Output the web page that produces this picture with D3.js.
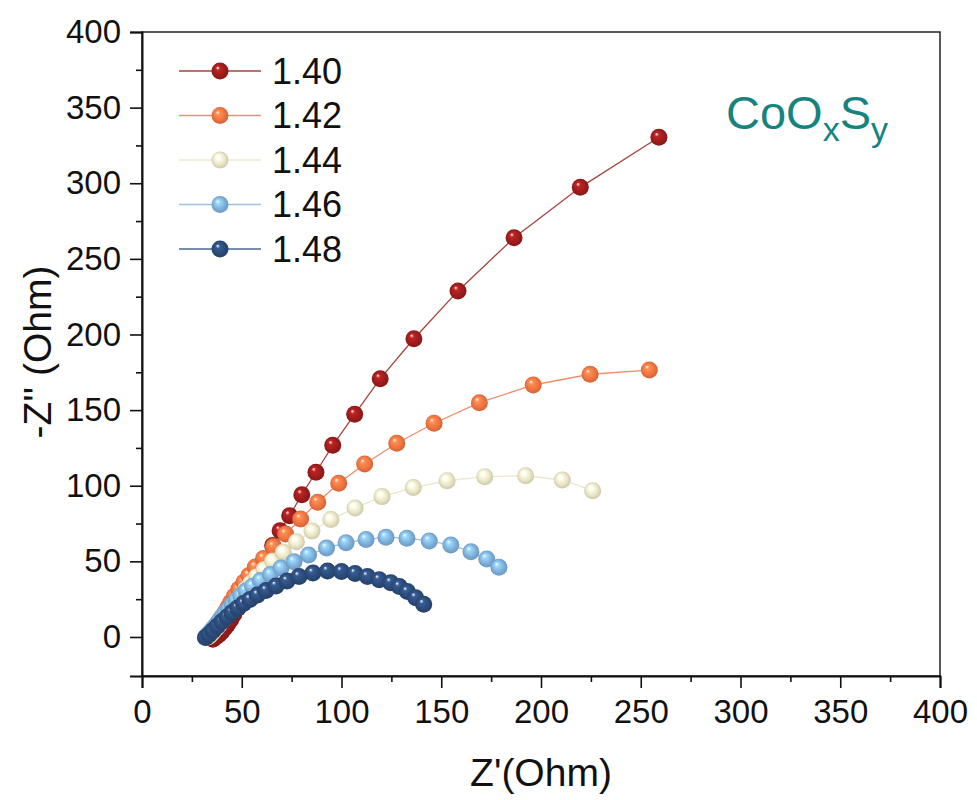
<!DOCTYPE html>
<html>
<head>
<meta charset="utf-8">
<script src="https://cdn.jsdelivr.net/npm/d3@7"></script>
<style>
body { margin: 0; background: #fff; }
text { font-family: "Liberation Sans", Arial, sans-serif; fill: #111; }
</style>
</head>
<body>
<svg id="chart"></svg>
<script>
// Page and plot box
const WIDTH = 977
const HEIGHT = 800
const LEFT = 142
const RIGHT = 940
const TOP = 32
const BOTTOM = 676

// Legend labels and colours (one per potential)
const seriesNames = ["1.40", "1.42", "1.44", "1.46", "1.48"]
const seriesColors = ["#9b1c1c", "#ee7341", "#e9e4c2", "#7caed8", "#2b4a78"]
const lineColors = ["#a5443e", "#ec8f6c", "#ece8cf", "#9cc1e0", "#4c6790"]

// Nyquist data: Z' (re) and -Z'' (im), Ohm
const re140 = [35.5, 37, 38.5, 40, 41.5, 43, 44.5, 46, 48, 50, 52, 54.5, 57.5, 61, 65.5, 69.2, 74.0, 80.1, 87.2, 95.6, 106.6, 119.4, 136.3, 158.4, 186.5, 219.7, 259.1]
const im140 = [-1.5, 0, 1.5, 3.5, 6, 8.5, 11.5, 15, 19, 23.5, 28.5, 34, 40.5, 49.5, 60.5, 70.3, 80.2, 94.1, 108.9, 126.7, 147.2, 170.8, 197.2, 228.8, 264.0, 297.3, 330.4]

const re142 = [33.5, 34.5, 35.5, 36.5, 37.5, 38.8, 40, 41.5, 43, 44.5, 46.3, 48.5, 51.1, 53.6, 56.8, 60.9, 65.9, 72.0, 79.5, 88.1, 98.6, 111.6, 127.7, 146.4, 169.1, 196.1, 224.6, 254.3]
const im142 = [0.3, 1.5, 3, 5, 7.5, 10, 13, 16, 19.5, 23, 27, 31.5, 36.2, 40.7, 46.3, 51.9, 59.8, 68.1, 78.0, 89.1, 101.6, 114.4, 128.1, 141.3, 154.9, 166.6, 173.7, 176.5]

const re144 = [33, 34, 35, 36, 37.5, 39, 40.5, 42, 43.5, 45.5, 47.5, 49.5, 52, 54.5, 57.5, 61.2, 65.5, 70.8, 77.4, 85.2, 94.7, 106.8, 120.3, 136.0, 152.9, 171.8, 192.3, 210.7, 225.9]
const im144 = [0, 1, 2.5, 4, 6, 8.5, 11, 14, 17, 20.5, 24, 27.5, 31.5, 35.5, 39.9, 44.6, 50.2, 56.0, 63.0, 70.1, 77.6, 85.3, 92.8, 98.8, 103.3, 106.0, 106.6, 103.8, 96.7]

const re146 = [32, 32.6, 33.4, 34.3, 35.3, 36.4, 37.6, 38.9, 40.3, 41.8, 43.4, 45.2, 47.2, 49.5, 52.1, 55.4, 59.4, 64.4, 69.7, 76.2, 83.5, 92.5, 102.3, 112.3, 122.3, 132.8, 144.0, 154.8, 164.9, 172.8, 178.9]
const im146 = [-0.2, 0.8, 2, 3.4, 5, 6.8, 8.8, 11, 13.4, 16, 18.6, 21.4, 24.3, 27.3, 30.4, 33.6, 37.4, 41.3, 45.6, 49.8, 54.2, 58.8, 62.3, 64.5, 65.9, 65.3, 63.5, 60.8, 56.4, 51.6, 46.1]

const re148 = [31.8, 33.6, 35.6, 37.8, 40.1, 42.6, 45.1, 47.9, 50.9, 54.1, 57.9, 62.2, 67.2, 72.7, 78.7, 85.7, 93.0, 100.0, 106.8, 113.0, 118.9, 124.7, 129.0, 133.0, 137.2, 141.2]
const im148 = [-0.3, 1.7, 4.3, 7.3, 10.2, 13.2, 16.2, 19.2, 22.1, 24.8, 27.8, 30.7, 33.7, 37.0, 40.0, 42.3, 43.6, 43.3, 42.0, 40.0, 37.9, 35.9, 33.3, 30.0, 26.0, 21.6]

// Axis ticks
const xTicks = [0, 50, 100, 150, 200, 250, 300, 350, 400]
const xMinor = [25, 75, 125, 175, 225, 275, 325, 375]
const yTicks = [0, 50, 100, 150, 200, 250, 300, 350, 400]
const yMinor = [25, 75, 125, 175, 225, 275, 325, 375]

const reList = [re140, re142, re144, re146, re148]
const imList = [im140, im142, im144, im146, im148]
const series = seriesNames.map((name, i) => ({
  name,
  color: seriesColors[i],
  line: lineColors[i],
  points: reList[i].map((x, j) => ({ x, y: imList[i][j] })),
}))

const xScale = d3.scaleLinear().domain([0, 400]).range([LEFT, RIGHT])
const yScale = d3.scaleLinear().domain([-25.8, 400]).range([BOTTOM, TOP])

const svg = d3.select("#chart").attr("width", WIDTH).attr("height", HEIGHT)

// glossy sphere gradients, one per series
const defs = svg.append("defs")
series.forEach((s, i) => {
  const c = d3.color(s.color)
  const g = defs.append("radialGradient")
    .attr("id", "ball" + i)
    .attr("cx", "50%").attr("cy", "50%").attr("r", "55%")
    .attr("fx", "35%").attr("fy", "30%")
  g.append("stop").attr("offset", "0%").attr("stop-color", "#ffffff")
  g.append("stop").attr("offset", "22%").attr("stop-color", c.brighter(0.6))
  g.append("stop").attr("offset", "65%").attr("stop-color", c)
  g.append("stop").attr("offset", "100%").attr("stop-color", c.darker(0.5))
})

// frame (top and right sides)
svg.append("rect")
  .attr("x", LEFT).attr("y", TOP)
  .attr("width", RIGHT - LEFT).attr("height", BOTTOM - TOP)
  .attr("fill", "none").attr("stroke", "#222").attr("stroke-width", 1.5)

// x axis
const xAxis = svg.append("g").attr("transform", `translate(0,${BOTTOM})`)
  .call(d3.axisBottom(xScale).tickValues(xTicks).tickSize(12).tickPadding(12))
xAxis.append("g")
  .call(d3.axisBottom(xScale).tickValues(xMinor).tickSize(6).tickFormat(""))
  .select(".domain").remove()

// y axis
const yAxis = svg.append("g").attr("transform", `translate(${LEFT},0)`)
  .call(d3.axisLeft(yScale).tickValues(yTicks).tickSize(12).tickPadding(9))
yAxis.append("g")
  .call(d3.axisLeft(yScale).tickValues(yMinor).tickSize(6).tickFormat(""))
  .select(".domain").remove()

svg.selectAll(".domain").attr("stroke", "#111").attr("stroke-width", 2)
svg.selectAll(".tick line").attr("stroke", "#111").attr("stroke-width", 1.6)
svg.selectAll(".tick text")
  .attr("font-size", 33)
  .attr("font-family", "'Liberation Sans', Arial, sans-serif")
  .attr("fill", "#111")

// axis titles
svg.append("text")
  .attr("x", (LEFT + RIGHT) / 2).attr("y", 786)
  .attr("text-anchor", "middle").attr("font-size", 39)
  .text("Z'(Ohm)")
svg.append("text")
  .attr("transform", `translate(51,${(TOP + BOTTOM) / 2 - 2}) rotate(-90)`)
  .attr("text-anchor", "middle").attr("font-size", 39)
  .text("-Z'' (Ohm)")

// series
const line = d3.line().x((d) => xScale(d.x)).y((d) => yScale(d.y))
const groups = svg.selectAll(".series").data(series).join("g").attr("class", "series")
groups.append("path")
  .attr("d", (d) => line(d.points))
  .attr("fill", "none")
  .attr("stroke", (d) => d.line)
  .attr("stroke-width", 1.3)
groups.each(function (d, i) {
  d3.select(this).selectAll("circle").data(d.points).join("circle")
    .attr("cx", (p) => xScale(p.x))
    .attr("cy", (p) => yScale(p.y))
    .attr("r", 8.5)
    .attr("fill", `url(#ball${i})`)
})

// legend
const legend = svg.append("g")
const legendRows = legend.selectAll("g").data(series).join("g")
  .attr("transform", (d, i) => `translate(0,${71 + i * 44.5})`)
legendRows.append("line")
  .attr("x1", 179).attr("x2", 261)
  .attr("stroke", (d) => d.line).attr("stroke-width", 1.3)
legendRows.append("circle")
  .attr("cx", 220).attr("r", 8.5)
  .attr("fill", (d, i) => `url(#ball${i})`)
legendRows.append("text")
  .attr("x", 272).attr("dy", "0.36em")
  .attr("font-size", 36)
  .text((d) => d.name)

// compound label
const label = svg.append("text")
  .attr("x", 726).attr("y", 129)
  .attr("font-size", 47)
  .style("fill", "#16837e")
label.append("tspan").text("CoO")
label.append("tspan").attr("font-size", 34).attr("dy", 12).text("x")
label.append("tspan").attr("dy", -12).text("S")
label.append("tspan").attr("font-size", 34).attr("dy", 12).text("y")
</script>
</body>
</html>
